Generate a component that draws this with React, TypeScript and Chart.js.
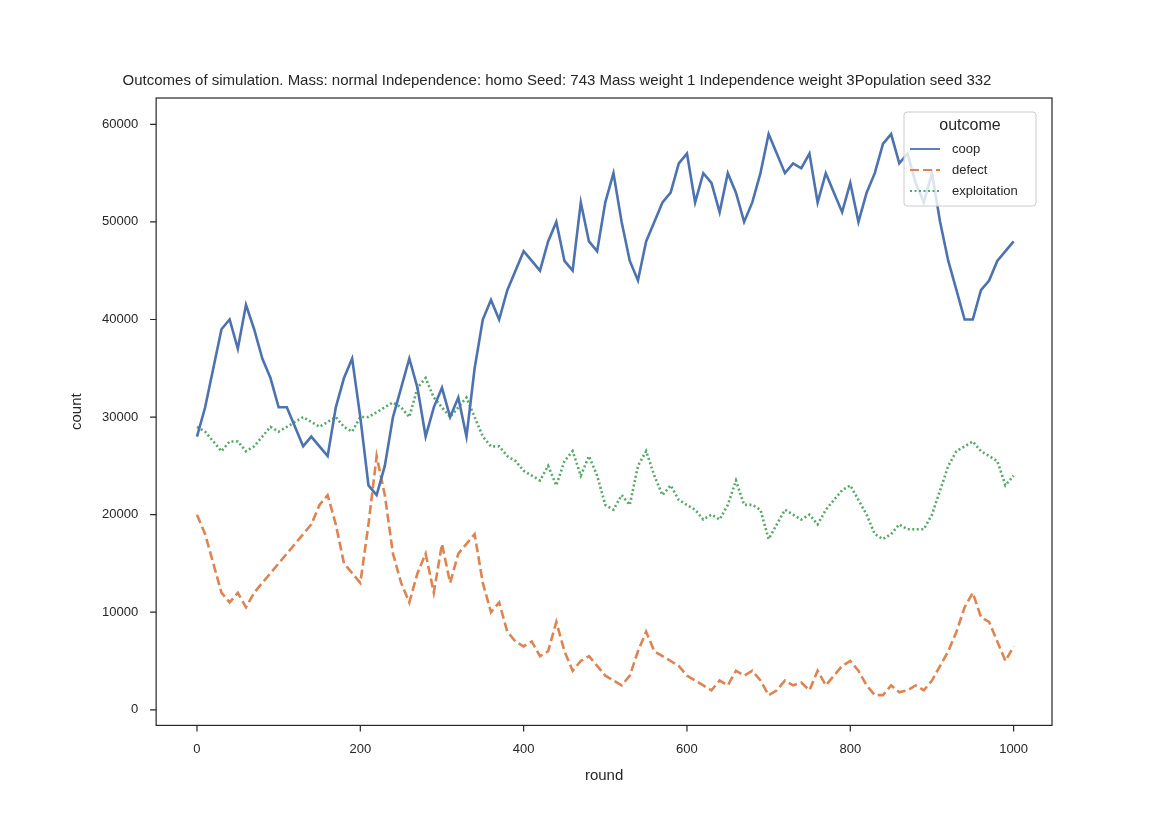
import React, { useEffect, useRef } from "react";
import Chart from "chart.js/auto";

const rounds = Array.from({ length: 101 }, (_, i) => i * 10);

const coop = [
  28000, 31000, 35000, 39000, 40000, 37000, 41500, 39000, 36000, 34000,
  31000, 31000, 29000, 27000, 28000, 27000, 26000, 31000, 34000, 36000,
  30000, 23000, 22000, 25000, 30000, 33000, 36000, 33000, 28000, 31000,
  33000, 30000, 32000, 28000, 35000, 40000, 42000, 40000, 43000, 45000,
  47000, 46000, 45000, 48000, 50000, 46000, 45000, 52000, 48000, 47000,
  52000, 55000, 50000, 46000, 44000, 48000, 50000, 52000, 53000, 56000,
  57000, 52000, 55000, 54000, 51000, 55000, 53000, 50000, 52000, 55000,
  59000, 57000, 55000, 56000, 55500, 57000, 52000, 55000, 53000, 51000,
  54000, 50000, 53000, 55000, 58000, 59000, 56000, 57000, 54000, 52000,
  55000, 50000, 46000, 43000, 40000, 40000, 43000, 44000, 46000, 47000, 48000,
];

const defect = [
  20000, 18000, 15000, 12000, 11000, 12000, 10500, 12000, 13000, 14000,
  15000, 16000, 17000, 18000, 19000, 21000, 22000, 19000, 15000, 14000,
  13000, 19000, 26000, 22000, 16000, 13000, 11000, 14000, 16000, 12000,
  17000, 13000, 16000, 17000, 18000, 13000, 10000, 11000, 8000, 7000,
  6500, 7000, 5500, 6000, 9000, 6000, 4000, 5000, 5500, 4500,
  3500, 3000, 2500, 3500, 6000, 8000, 6000, 5500, 5000, 4500,
  3500, 3000, 2500, 2000, 3000, 2500, 4000, 3500, 4000, 3000,
  1500, 2000, 3000, 2500, 2800, 2000, 4000, 2500, 3500, 4500,
  5000, 4000, 2500, 1500, 1500, 2500, 1800, 2000, 2500, 2000,
  3000, 4500, 6000, 8000, 10500, 12000, 9500, 9000, 7000, 5000, 6500,
];

const exploitation = [
  29000, 28500, 27500, 26500, 27500, 27500, 26500, 27000, 28000, 29000,
  28500, 29000, 29500, 30000, 29500, 29000, 29500, 30000, 29000, 28500,
  30000, 30000, 30500, 31000, 31500, 31000, 30000, 33000, 34000, 32000,
  31000, 30000, 31000, 32000, 30000, 28000, 27000, 27000, 26000, 25500,
  24500, 24000, 23500, 25000, 23000, 25500, 26500, 24000, 26000, 24000,
  21000, 20500, 22000, 21000, 25000, 26500, 24000, 22000, 23000, 21500,
  21000, 20500, 19500, 20000, 19500, 21000, 23500, 21000, 21000, 20500,
  17500, 19000, 20500, 20000, 19500, 20000, 19000, 20500, 21500, 22500,
  23000, 21500, 20000, 18000, 17500, 18000, 19000, 18500, 18500, 18500,
  20000, 22500, 25000, 26500, 27000, 27500, 26500, 26000, 25500, 23000, 24000,
];

const xTicks = [0, 200, 400, 600, 800, 1000];
const yTicks = [0, 10000, 20000, 30000, 40000, 50000, 60000];

const FONT = "'Liberation Sans', Arial, sans-serif";
const INK = "#262626";

const series = [
  { label: "coop", data: coop, color: "#4c72b0", dash: [] as number[] },
  { label: "defect", data: defect, color: "#dd8452", dash: [9, 4] },
  { label: "exploitation", data: exploitation, color: "#55a868", dash: [2, 2.5] },
];

const frameAndLegend = {
  id: "frameAndLegend",
  afterDraw(chart: any) {
    const { ctx, chartArea } = chart;
    const { left, right, top, bottom } = chartArea;
    ctx.save();
    // frame
    ctx.strokeStyle = INK;
    ctx.lineWidth = 1.2;
    ctx.strokeRect(left, top, right - left, bottom - top);
    // ticks
    const xs = chart.scales.x, ys = chart.scales.y;
    ctx.beginPath();
    xTicks.forEach((v) => {
      const px = xs.getPixelForValue(v);
      ctx.moveTo(px, bottom);
      ctx.lineTo(px, bottom + 6);
    });
    yTicks.forEach((v) => {
      const py = ys.getPixelForValue(v);
      ctx.moveTo(left, py);
      ctx.lineTo(left - 6, py);
    });
    ctx.stroke();

    // legend
    const w = 132, h = 94;
    const x = right - w - 16, y = top + 14;
    ctx.fillStyle = "rgba(255,255,255,0.8)";
    ctx.strokeStyle = "#cccccc";
    ctx.lineWidth = 1;
    ctx.beginPath();
    ctx.roundRect(x, y, w, h, 3);
    ctx.fill();
    ctx.stroke();
    ctx.fillStyle = INK;
    ctx.textBaseline = "middle";
    ctx.textAlign = "center";
    ctx.font = `16px ${FONT}`;
    ctx.fillText("outcome", x + w / 2, y + 14);
    ctx.textAlign = "left";
    ctx.font = `13px ${FONT}`;
    series.forEach((s, i) => {
      const ly = y + 37 + i * 21;
      ctx.strokeStyle = s.color;
      ctx.lineWidth = 1.8;
      ctx.setLineDash(s.dash);
      ctx.beginPath();
      ctx.moveTo(x + 6, ly);
      ctx.lineTo(x + 36, ly);
      ctx.stroke();
      ctx.setLineDash([]);
      ctx.fillStyle = INK;
      ctx.fillText(s.label, x + 48, ly);
    });
    ctx.restore();
  },
};

const App: React.FC = () => {
  const chartRef = useRef<HTMLCanvasElement>(null);

  useEffect(() => {
    if (!chartRef.current) return;
    const ctx = chartRef.current.getContext("2d");
    if (!ctx) return;
    const chart = new Chart(ctx, {
      type: "line",
      data: {
        datasets: series.map((s) => ({
          label: s.label,
          data: rounds.map((r, i) => ({ x: r, y: s.data[i] })),
          borderColor: s.color,
          borderDash: s.dash,
          borderWidth: 2.6,
          pointRadius: 0,
          fill: false,
          tension: 0,
        })),
      },
      options: {
        animation: false,
        responsive: false,
        layout: { padding: { left: 54, right: 126, top: 64, bottom: 48 } },
        plugins: {
          legend: { display: false },
          tooltip: { enabled: false },
          title: {
            display: true,
            text: "Outcomes of simulation. Mass: normal Independence: homo Seed: 743 Mass weight 1 Independence weight 3Population seed 332",
            color: INK,
            font: { family: FONT, size: 15, weight: "normal" },
            padding: { top: 0, bottom: 8 },
          },
        },
        scales: {
          x: {
            type: "linear",
            min: -50,
            max: 1047,
            afterBuildTicks: (axis: any) => {
              axis.ticks = xTicks.map((v) => ({ value: v }));
            },
            ticks: { color: INK, font: { family: FONT, size: 13 }, padding: 8, callback: (v: any) => String(v) },
            grid: { display: false },
            border: { display: false },
            title: { display: true, text: "round", color: INK, font: { family: FONT, size: 15 }, padding: 2 },
          },
          y: {
            min: -1600,
            max: 62700,
            afterBuildTicks: (axis: any) => {
              axis.ticks = yTicks.map((v) => ({ value: v }));
            },
            ticks: { color: INK, font: { family: FONT, size: 13 }, padding: 10, callback: (v: any) => String(v) },
            grid: { display: false },
            border: { display: false },
            title: { display: true, text: "count", color: INK, font: { family: FONT, size: 15 }, padding: 6 },
          },
        },
      },
      plugins: [frameAndLegend],
    });
    return () => chart.destroy();
  }, []);

  return (
    <div style={{ width: 1170, height: 827, background: "#fff" }}>
      <canvas ref={chartRef} width={1170} height={827} style={{ display: "block" }} />
    </div>
  );
};

export default App;
